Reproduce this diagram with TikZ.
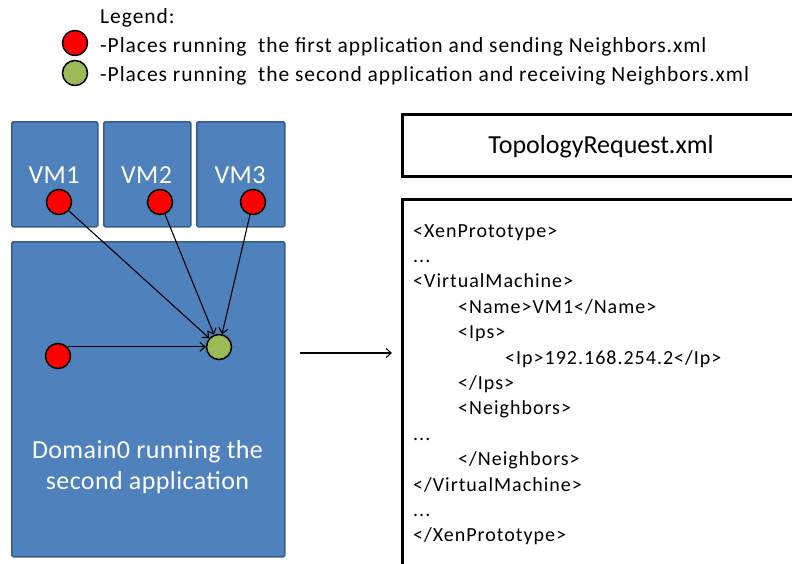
\documentclass[tikz,border=0pt]{standalone}
\usepackage{fontspec}
\setmainfont{Carlito}
\usetikzlibrary{arrows.meta}
\definecolor{vmblue}{HTML}{4F81BD}
\definecolor{vmedge}{HTML}{385D8A}
\definecolor{appred}{HTML}{FF0000}
\definecolor{appgreen}{HTML}{9BBB59}
\begin{document}
\begin{tikzpicture}[x=1pt,y=-1pt,
  hostbox/.style={draw=vmedge, fill=vmblue, line width=1.5pt, rounded corners=1.5pt,
    inner sep=0pt, anchor=north west},
  hostlabel/.style={text=white, font=\fontsize{26}{31}\selectfont\addfontfeatures{LetterSpace=1.5},
    anchor=base, inner sep=0pt},
  sender/.style={circle, draw=black, line width=1.5pt, fill=appred, minimum size=25pt, inner sep=0pt},
  receiver/.style={sender, fill=appgreen},
  legendtext/.style={font=\fontsize{21.5}{25}\selectfont\addfontfeatures{LetterSpace=4.5},
    anchor=base west, inner sep=0pt},
  filebox/.style={draw=black, line width=2.5pt, fill=white, inner sep=0pt, anchor=north west},
  xmlline/.style={font=\fontsize{20}{24}\selectfont\addfontfeatures{LetterSpace=5},
    anchor=base west, inner sep=0pt},
  flow/.style={-{Straight Barb[length=5pt,width=9pt]}, line width=1.1pt},
]
\useasboundingbox (0,0) rectangle (792,563);
\clip (0,0) rectangle (792,563);

% legend
\node[legendtext] (legtitle) at (100,23) {Legend:};
\node[sender] (legred) at (75,43) {};
\node[receiver] (leggreen) at (75,73) {};
\node[legendtext] (legsend) at (100,52) {-Places running\ \ the first application\ and sending\ Neighbors.xml};
\node[legendtext] (legrecv) at (100,81) {-Places running\ \ the second\ application\ and receiving\ Neighbors.xml};

% virtual machines and Domain0
\node[hostbox, minimum width=86pt, minimum height=105pt] (vm1box) at (11,121) {};
\node[hostbox, minimum width=87pt, minimum height=105pt] (vm2box) at (103,121) {};
\node[hostbox, minimum width=88pt, minimum height=105pt] (vm3box) at (196,121) {};
\node[hostbox, minimum width=273pt, minimum height=315pt] (dom0box) at (11,241) {};

\node[hostlabel] (vm1lbl) at (54,183) {VM1};
\node[hostlabel] (vm2lbl) at (146.5,183) {VM2};
\node[hostlabel] (vm3lbl) at (240,183) {VM3};
\node[hostlabel] (dom0lbl1) at (147.5,458) {Domain0 running the};
\node[hostlabel] (dom0lbl2) at (147.5,489) {second application};

\node[sender] (s1) at (59,202) {};
\node[sender] (s2) at (160,202) {};
\node[sender] (s3) at (253,202) {};
\node[sender] (s0) at (58,356) {};
\node[receiver] (r) at (219,347) {};

\draw[flow] (s1) -- (r);
\draw[flow] (s2) -- (r);
\draw[flow] (s3) -- (r);
\draw[flow] (s0.44) -- (s0.44 -| r.west);

% transfer to the request file
\coordinate (sendfrom) at (300,353);
\coordinate (sendto) at (392,353);
\draw[flow] (sendfrom) -- (sendto);

% TopologyRequest.xml
\node[filebox, minimum width=400pt, minimum height=62pt] (titlebox) at (401,113) {};
\node[font=\fontsize{26}{31}\selectfont, anchor=base, inner sep=0pt] (title) at (601,153) {TopologyRequest.xml};
\node[filebox, minimum width=400pt, minimum height=366pt] (xmlbox) at (401,198) {};

\node[xmlline] (x1) at (413,237) {<XenPrototype>};
\node[xmlline] (x2) at (413,262.4) {...};
\node[xmlline] (x3) at (413,287.8) {<VirtualMachine>};
\node[xmlline] (x4) at (458,313.2) {<Name>VM1</Name>};
\node[xmlline] (x5) at (458,338.6) {<Ips>};
\node[xmlline] (x6) at (505,364) {<Ip>192.168.254.2</Ip>};
\node[xmlline] (x7) at (458,389.4) {</Ips>};
\node[xmlline] (x8) at (458,414.8) {<Neighbors>};
\node[xmlline] (x9) at (413,440.2) {...};
\node[xmlline] (x10) at (458,465.6) {</Neighbors>};
\node[xmlline] (x11) at (413,491) {</VirtualMachine>};
\node[xmlline] (x12) at (413,516.4) {...};
\node[xmlline] (x13) at (413,541.8) {</XenPrototype>};
\end{tikzpicture}
\end{document}
